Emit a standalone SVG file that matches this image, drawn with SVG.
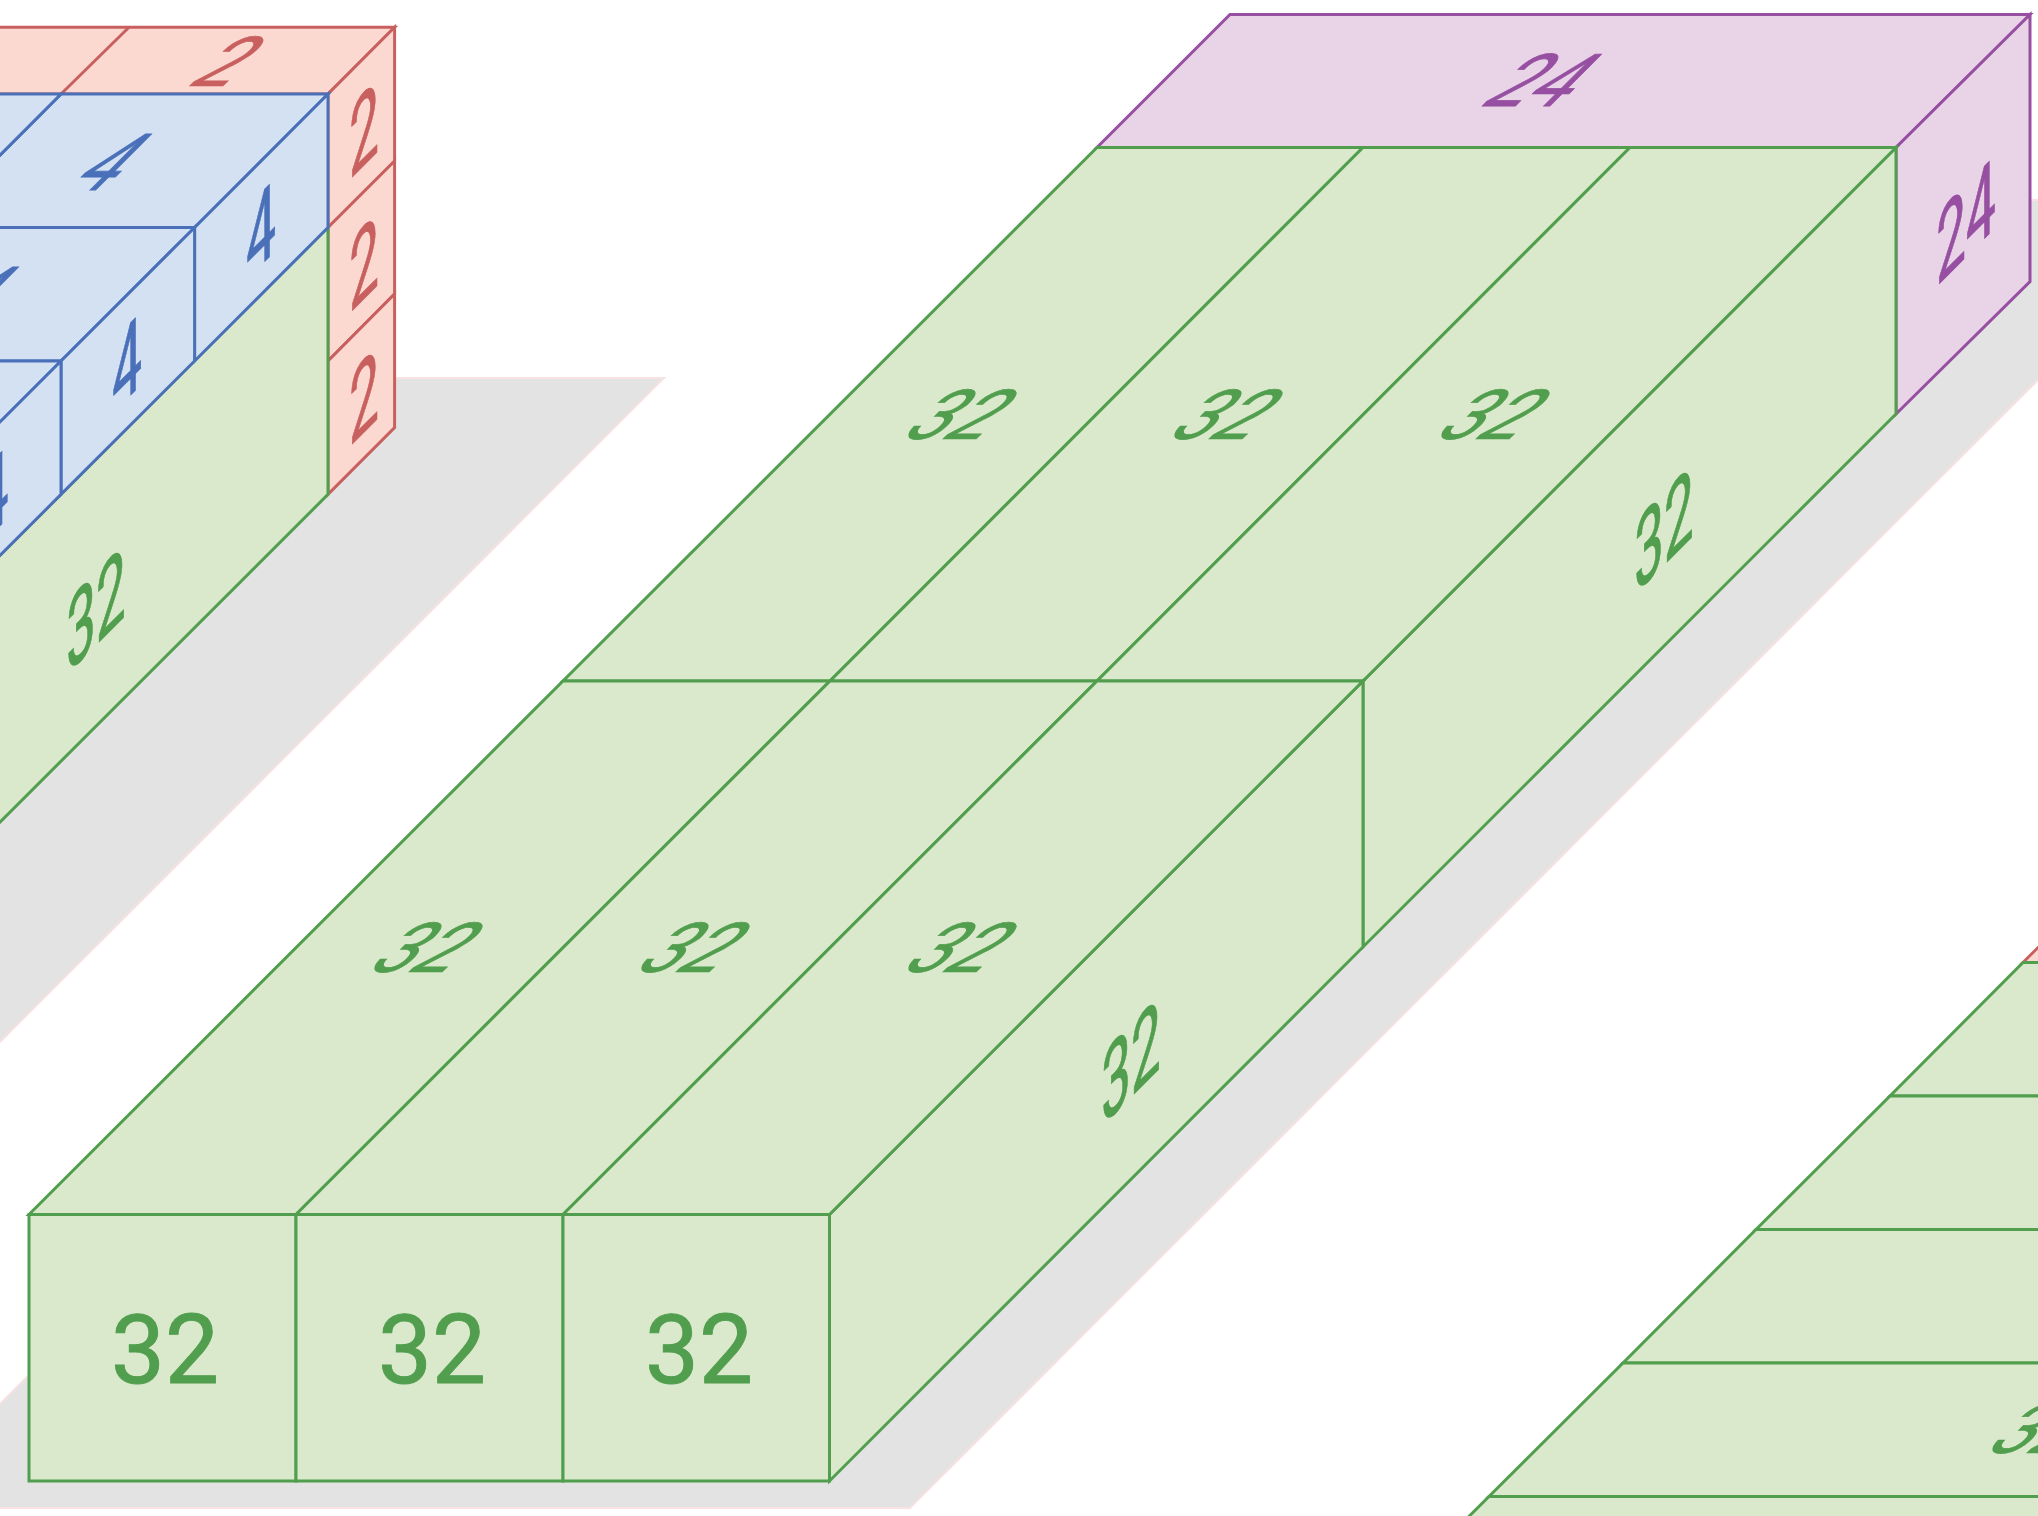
<svg xmlns="http://www.w3.org/2000/svg" width="2038" height="1516" viewBox="0 0 2038 1516">
<style>
.s{fill:#e4e3e4;stroke:#f8e2e2;stroke-width:2}
.g{fill:#dae9cb;stroke:#519e4e;stroke-width:3}
.b{fill:#d4e1f2;stroke:#4a70b9;stroke-width:3}
.r{fill:#fcd9d0;stroke:#c8605f;stroke-width:3}
.p{fill:#e9d4e7;stroke:#964fa1;stroke-width:3}
text{font-family:Roboto,"Liberation Sans",sans-serif;font-size:96px;text-anchor:middle;stroke-width:1}
.tg{fill:#519e4e;stroke:#519e4e}.tb{fill:#4a70b9;stroke:#4a70b9}.tr{fill:#c8605f;stroke:#c8605f}.tp{fill:#964fa1;stroke:#964fa1}
</style>
<rect width="2038" height="1516" fill="#fff"/>
<g id="shadows">
<polygon class="s" points="-300,378 664,378 -300,1342"/>
<polygon class="s" points="1204,200 2218,200 910,1508 -104,1508"/>
</g>
<g id="block-left">
<polygon class="r" points="-300,94 328,94 394.6,27.3 -233,27.3"/>
<line class="r" x1="129" y1="27.3" x2="61" y2="94"/>
<polygon class="r" points="328,94 394.6,27.3 394.6,161 328,227.5"/>
<polygon class="r" points="328,227.5 394.6,161 394.6,294 328,361"/>
<polygon class="r" points="328,361 394.6,294 394.6,427.6 328,494.4"/>
<polygon class="g" points="328,227.5 328,494.4 -100,922 -100,655"/>
<polygon class="b" points="61,94 328,94 194.6,227.5 -72.4,227.5"/>
<polygon class="b" points="-206,94 61,94 -72.4,227.5 -339,227.5"/>
<polygon class="b" points="-72.4,227.5 194.6,227.5 61,361 -206,361"/>
<polygon class="b" points="-206,361 61,361 -72.4,494.4 -339,494.4"/>
<polygon class="b" points="328,94 328,227.5 194.6,361 194.6,227.5"/>
<polygon class="b" points="194.6,227.5 194.6,361 61,494.4 61,361"/>
<polygon class="b" points="61,361 61,494.4 -72.4,628 -72.4,494.4"/>
<g class="tr">
<text transform="matrix(.75,0,-.72,.72,230,62)" y="34">2</text>
<text transform="matrix(.55,-.55,0,1.06,364,129)" y="34">2</text>
<text transform="matrix(.55,-.55,0,1.06,364,262.5)" y="34">2</text>
<text transform="matrix(.55,-.55,0,1.06,364,396)" y="34">2</text>
</g>
<g class="tb">
<text transform="matrix(.7,0,-.82,.82,113,162)" y="34">4</text>
<text transform="matrix(.7,0,-.82,.82,-20,295.4)" y="34">4</text>
<text transform="matrix(.55,-.55,0,1.06,261,229)" y="34">4</text>
<text transform="matrix(.55,-.55,0,1.06,127,362.5)" y="34">4</text>
<text transform="matrix(.55,-.55,0,1.06,-6.4,496)" y="34">4</text>
</g>
<text class="tg" transform="matrix(.55,-.55,0,1.06,96,609)" y="34">32</text>
</g>
<g id="block-back">
<polygon class="p" points="1097,147.5 1896,147.5 2030,14.5 1230,14.5"/>
<polygon class="p" points="1896,147.5 2030,14.5 2030,281.5 1896,414"/>
<polygon class="g" points="1363,681 1896,147.5 1896,414 1363,947"/>
<polygon class="g" points="563,681 830,681 1363,147.5 1097,147.5"/>
<polygon class="g" points="830,681 1097,681 1630,147.5 1363,147.5"/>
<polygon class="g" points="1097,681 1363,681 1896,147.5 1630,147.5"/>
<text class="tp" transform="matrix(.75,0,-.76,.76,1544,80)" y="34">24</text>
<text class="tp" transform="matrix(.55,-.55,0,1.06,1966,221)" y="34">24</text>
<text class="tg" transform="matrix(.75,0,-.72,.72,963,415)" y="34">32</text>
<text class="tg" transform="matrix(.75,0,-.72,.72,1229,415)" y="34">32</text>
<text class="tg" transform="matrix(.75,0,-.72,.72,1496,415)" y="34">32</text>
<text class="tg" transform="matrix(.55,-.55,0,1.06,1664,529)" y="34">32</text>
</g>
<g id="block-front">
<polygon class="g" points="829.5,1214.5 1363,681 1363,947 829.5,1481"/>
<polygon class="g" points="29,1214.5 296,1214.5 830,681 563,681"/>
<polygon class="g" points="296,1214.5 563,1214.5 1097,681 830,681"/>
<polygon class="g" points="563,1214.5 829.5,1214.5 1363,681 1097,681"/>
<rect class="g" x="29" y="1214.5" width="267" height="266.5"/>
<rect class="g" x="296" y="1214.5" width="267" height="266.5"/>
<rect class="g" x="563" y="1214.5" width="266.5" height="266.5"/>
<text class="tg" x="165" y="1383">32</text>
<text class="tg" x="432" y="1383">32</text>
<text class="tg" x="699" y="1383">32</text>
<text class="tg" transform="matrix(.75,0,-.72,.72,429,948)" y="34">32</text>
<text class="tg" transform="matrix(.75,0,-.72,.72,696,948)" y="34">32</text>
<text class="tg" transform="matrix(.75,0,-.72,.72,963,948)" y="34">32</text>
<text class="tg" transform="matrix(.55,-.55,0,1.06,1131,1061)" y="34">32</text>
</g>
<g id="block-right">
<polygon class="r" points="2023,962.5 2123,862.5 2123,962.5"/>
<polygon class="g" points="2023,962.5 2200,962.5 2200,1096 1890,1096"/>
<polygon class="g" points="1890,1096 2200,1096 2200,1229.5 1756,1229.5"/>
<polygon class="g" points="1756,1229.5 2200,1229.5 2200,1363 1623,1363"/>
<polygon class="g" points="1623,1363 2200,1363 2200,1496.5 1489,1496.5"/>
<polygon class="g" points="1489,1496.5 2200,1496.5 2200,1600 1385,1600"/>
<text class="tg" transform="matrix(.75,0,-.72,.72,2047,1429)" y="34">32</text>
</g>
</svg>
